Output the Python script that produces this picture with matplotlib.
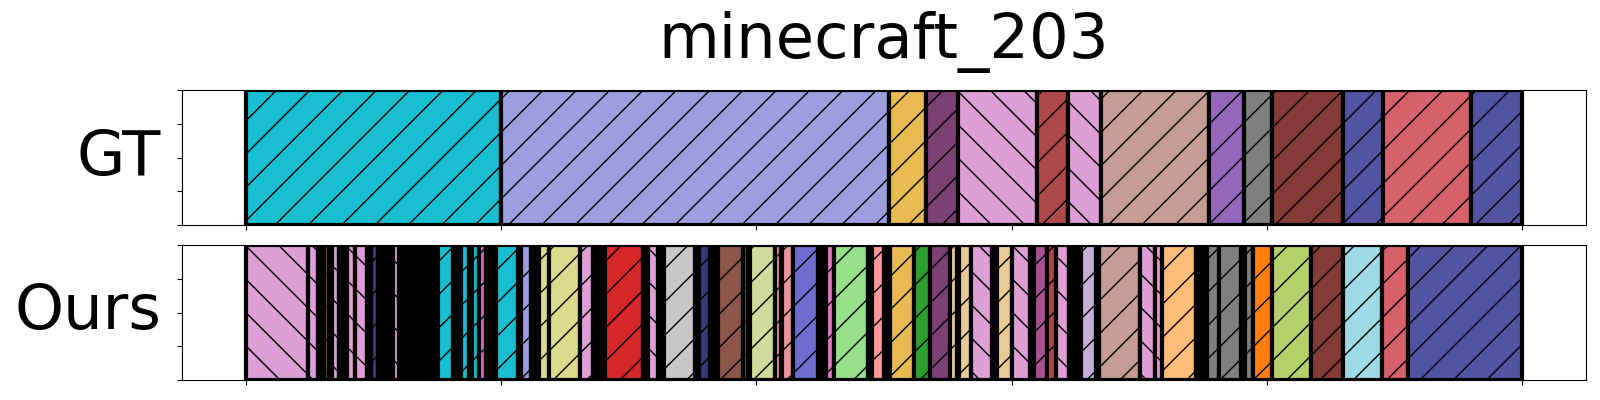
import matplotlib
matplotlib.use("Agg")
import matplotlib.pyplot as plt

TITLE = "minecraft_203"
ROW_NAMES = ["GT", "Ours"]

# class id -> colour
CLASS_COLORS = {
    0: "#17becf", 1: "#9c9ede", 2: "#e7ba52", 3: "#7b4173", 4: "#de9ed6",
    5: "#ad494a", 6: "#c49c94", 7: "#9467bd", 8: "#7f7f7f", 9: "#843c39",
    10: "#5254a3", 11: "#d6616b", 12: "#8c6d31", 13: "#393b79", 14: "#ce6dbd",
    15: "#dbdb8d", 16: "#de9ed6", 17: "#d62728", 18: "#c7c7c7", 19: "#8c564b",
    20: "#cedb9c", 21: "#e7969c", 22: "#6b6ecf", 23: "#e377c2", 24: "#98df8a",
    25: "#ff9896", 26: "#2ca02c", 27: "#e7cb94", 28: "#a55194", 29: "#c5b0d5",
    30: "#ffbb78", 31: "#ff7f0e", 32: "#b5cf6b", 33: "#9edae5", 34: "#637939",
}
BACKSLASH_CLASSES = [4]

# ground-truth segmentation (frame boundaries and labels)
GT_BOUNDS = [0, 200, 504, 533, 558, 620, 644, 670, 755, 782, 804, 860, 891, 960, 1000]
GT_LABELS = [0, 1, 2, 3, 4, 5, 4, 6, 7, 8, 9, 10, 11, 10]

# predicted segmentation
OURS_BOUNDS = [
    0, 48.6, 56.4, 58.5, 61.0, 65.0, 67.4, 72.9, 76.0, 79.2,
    85.4, 94.8, 98.0, 103.4, 106.4, 109.3, 112.3, 115.2, 119.9, 122.9,
    126.0, 129.1, 132.1, 135.2, 138.3, 141.3, 144.4, 147.4, 150.5, 162.2,
    165.3, 168.5, 174.8, 177.1, 182.6, 188.1, 190.7, 193.3, 195.9, 213.2,
    215.5, 223.4, 226.5, 229.6, 237.5, 261.8, 271.9, 275.0, 278.2, 281.3,
    311.1, 313.0, 315.0, 322.9, 325.2, 327.6, 351.9, 355.0, 363.6, 366.7,
    369.9, 389.5, 393.4, 395.0, 414.6, 419.3, 420.1, 428.7, 448.3, 451.4,
    454.5, 460.8, 487.5, 490.6, 500.0, 502.3, 504.7, 523.5, 536.1, 551.7,
    557.2, 558.8, 568.2, 584.6, 586.6, 588.6, 600.3, 614.4, 617.6, 627.7,
    634.8, 645.0, 648.1, 651.3, 654.4, 666.1, 668.5, 700.6, 712.4, 717.9,
    744.5, 747.4, 750.2, 753.1, 762.5, 779.8, 782.9, 789.2, 804.1, 834.6,
    859.7, 890.3, 910.3, 1000,
]
OURS_LABELS = [
    4, 4, 4, 4, 12, 4, 4, 4, 4,
    4, 4, 4, 13, 4, 4, 4, 4, 4, 4,
    4, 4, 4, 4, 4, 4, 4, 4, 4, 0,
    4, 4, 0, 4, 0, 14, 4, 4, 4, 0,
    4, 1, 4, 4, 15, 15, 16, 4, 4, 4,
    17, 4, 4, 4, 4, 4, 18, 4, 13, 4,
    4, 19, 34, 4, 20, 21, 4, 21, 22, 4,
    4, 23, 24, 4, 25, 4, 4, 2, 26, 3,
    27, 4, 27, 4, 4, 4, 27, 4, 4, 28,
    5, 4, 4, 4, 4, 29, 4, 6, 4, 4,
    30, 4, 4, 4, 8, 8, 4, 8, 31, 32,
    9, 33, 11, 10,
]

fig = plt.figure(figsize=(16, 4), dpi=100)
ax_gt = fig.add_axes([0.11375, 0.4375, 0.8775, 0.3375])
ax_ours = fig.add_axes([0.11375, 0.05, 0.8775, 0.3375])


def draw_row(ax, bounds, labels, name):
    starts = bounds[:-1]
    widths = [b - a for a, b in zip(bounds[:-1], bounds[1:])]
    for s, w, lab in zip(starts, widths, labels):
        ax.bar(s, 1, width=w, bottom=0, align="edge",
               color=CLASS_COLORS[lab], edgecolor="black", linewidth=3,
               hatch="\\" if lab in BACKSLASH_CLASSES else "/")
    ax.set_ylim(0, 1)
    ax.set_yticks([0, 0.25, 0.5, 0.75, 1.0])
    ax.set_xticks([0, 200, 400, 600, 800, 1000])
    ax.tick_params(labelleft=False, labelbottom=False)
    ax.set_ylabel(name, rotation=0, fontsize=45, ha="right", va="center",
                  labelpad=11.5)


draw_row(ax_gt, GT_BOUNDS, GT_LABELS, ROW_NAMES[0])
draw_row(ax_ours, OURS_BOUNDS, OURS_LABELS, ROW_NAMES[1])
ax_gt.set_title(TITLE, fontsize=45, pad=23)

fig.savefig("out.png", dpi=100)
